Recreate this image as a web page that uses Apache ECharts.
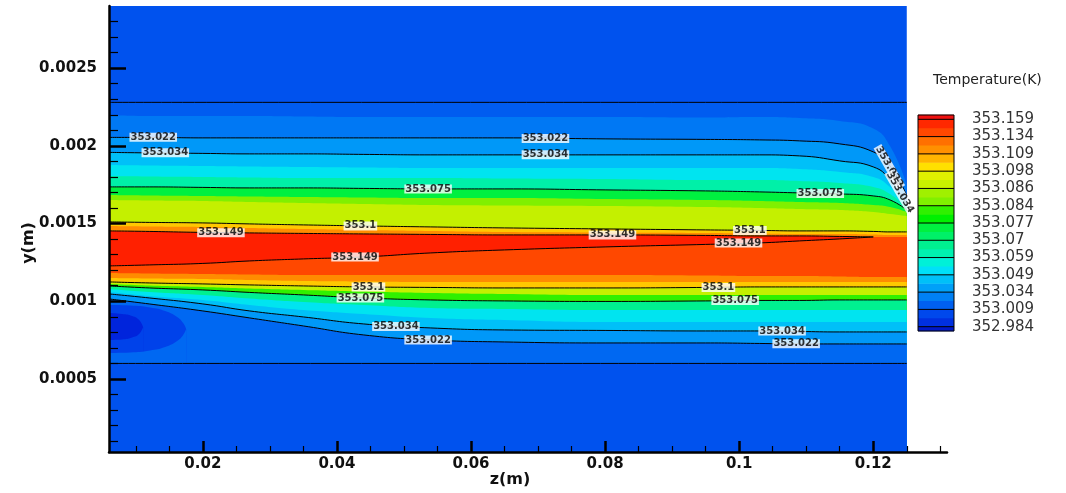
<!DOCTYPE html>
<html><head><meta charset="utf-8">
<script src="https://cdn.jsdelivr.net/npm/echarts@6/dist/echarts.min.js"></script>
<style>html,body{margin:0;padding:0;background:#fff}#c{width:1066px;height:493px}</style>
</head><body><div id="c"></div>
<script>
// ---- axis ticks ----
const xMajor = [0.02, 0.04, 0.06, 0.08, 0.1, 0.12];
const xMinor = [0.01, 0.015, 0.025, 0.03, 0.035, 0.045, 0.05, 0.055, 0.065, 0.07, 0.075, 0.085, 0.09, 0.095, 0.105, 0.11, 0.115, 0.125, 0.13];
const yMajor = [0.0005, 0.001, 0.0015, 0.002, 0.0025];
const yMinor = [0.0001, 0.0002, 0.0003, 0.0004, 0.0006, 0.0007, 0.0008, 0.0009, 0.0011, 0.0012, 0.0013, 0.0014, 0.0016, 0.0017, 0.0018, 0.0019, 0.0021, 0.0022, 0.0023, 0.0024, 0.0026, 0.0027, 0.0028];

// ---- colour legend ----
const legendLevels = ['352.984', '353.009', '353.034', '353.049', '353.059', '353.07', '353.077', '353.084', '353.086', '353.098', '353.109', '353.134', '353.159'];
const legendColors = ['#0018c8',
  '#0030e0', '#0048ec', '#0060f0', '#0080f4', '#00a0f8', '#00c0f8', '#00e0f8', '#00f0d8',
  '#00f0b0', '#00f090', '#00f068', '#00f040', '#00f000', '#30f000', '#80f000', '#a0f000',
  '#c8f000', '#e0f000', '#ffe000', '#ffb400', '#ff9000', '#ff7000', '#ff4800', '#ff2800',
  '#f01010'];

// ---- z sample positions (m) shared by the band boundaries ----
const zS = [0.006, 0.012, 0.02, 0.027, 0.035, 0.044, 0.054, 0.065, 0.08, 0.095, 0.103, 0.109, 0.115, 0.12, 0.1225, 0.125];
const zStart = 0.006, zEnd = 0.125;

// ---- band boundaries, y in mm, top to bottom ----
const plotTopMm = 2.9;
const wallTopMm = 2.28;
const wallBottomMm = 0.60;
const b02 = [2.1993, 2.1929, 2.1929, 2.1929, 2.1897, 2.1865, 2.1865, 2.1865, 2.1865, 2.1833, 2.1865, 2.1800, 2.1607, 2.1125, 1.9998, 1.7488];
const b03 = [2.0545, 2.0545, 2.0513, 2.0513, 2.0513, 2.0513, 2.0513, 2.0513, 2.0449, 2.0416, 2.0384, 2.0320, 2.0127, 1.9612, 1.8711, 1.6779]; // 353.022
const b04 = [1.9580, 1.9547, 1.9515, 1.9483, 1.9483, 1.9451, 1.9419, 1.9419, 1.9419, 1.9419, 1.9419, 1.9354, 1.9032, 1.8646, 1.7809, 1.6200]; // 353.034
const b05 = [1.8775, 1.8743, 1.8711, 1.8678, 1.8646, 1.8614, 1.8582, 1.8582, 1.8582, 1.8582, 1.8582, 1.8517, 1.8324, 1.8003, 1.7359, 1.6136];
const b06 = [1.8067, 1.8035, 1.8003, 1.7970, 1.7938, 1.7938, 1.7938, 1.7906, 1.7874, 1.7809, 1.7809, 1.7745, 1.7616, 1.7359, 1.6908, 1.6007];
const b07 = [1.7359, 1.7359, 1.7327, 1.7294, 1.7294, 1.7262, 1.7230, 1.7230, 1.7166, 1.7101, 1.7037, 1.6973, 1.6908, 1.6779, 1.6522, 1.5878]; // 353.075
const b08 = [1.6844, 1.6812, 1.6779, 1.6747, 1.6715, 1.6683, 1.6651, 1.6651, 1.6586, 1.6522, 1.6458, 1.6393, 1.6329, 1.6200, 1.6071, 1.5750];
const b09 = [1.6522, 1.6490, 1.6458, 1.6393, 1.6329, 1.6265, 1.6200, 1.6168, 1.6136, 1.6071, 1.6007, 1.5943, 1.5878, 1.5750, 1.5621, 1.5492];
const b10 = [1.5106, 1.5074, 1.5041, 1.4977, 1.4913, 1.4848, 1.4784, 1.4720, 1.4655, 1.4591, 1.4559, 1.4527, 1.4527, 1.4494, 1.4462, 1.4462]; // 353.1
const b11 = [1.4848, 1.4816, 1.4784, 1.4720, 1.4655, 1.4591, 1.4527, 1.4462, 1.4430, 1.4398, 1.4366, 1.4333, 1.4333, 1.4301, 1.4269, 1.4269];
const b12 = [1.4527, 1.4494, 1.4430, 1.4398, 1.4366, 1.4333, 1.4301, 1.4269, 1.4269, 1.4237, 1.4205, 1.4205, 1.4172, 1.4140, 1.4140, 1.4140]; // 353.149 upper
const b13 = [1.2274, 1.2338, 1.2435, 1.2595, 1.2724, 1.2853, 1.3110, 1.3303, 1.3497, 1.3658, 1.3754, 1.3883, 1.4012, 1.4140, 1.4140, 1.4140]; // 353.149 lower
const b14 = [1.1823, 1.1791, 1.1759, 1.1726, 1.1694, 1.1694, 1.1694, 1.1694, 1.1694, 1.1662, 1.1630, 1.1630, 1.1598, 1.1566, 1.1566, 1.1566];
const b15 = [1.1501, 1.1469, 1.1437, 1.1372, 1.1308, 1.1276, 1.1244, 1.1244, 1.1244, 1.1244, 1.1244, 1.1244, 1.1244, 1.1244, 1.1244, 1.1244];
const b16 = [1.1244, 1.1179, 1.1115, 1.1051, 1.0986, 1.0922, 1.0890, 1.0857, 1.0857, 1.0890, 1.0922, 1.0922, 1.0922, 1.0922, 1.0922, 1.0922]; // 353.1
const b17 = [1.1115, 1.1018, 1.0922, 1.0825, 1.0729, 1.0632, 1.0536, 1.0471, 1.0407, 1.0407, 1.0407, 1.0407, 1.0407, 1.0407, 1.0407, 1.0407];
const b18 = [1.0986, 1.0857, 1.0729, 1.0568, 1.0407, 1.0214, 1.0085, 1.0021, 0.9988, 1.0021, 1.0053, 1.0053, 1.0085, 1.0085, 1.0085, 1.0085]; // 353.075
const b19 = [1.0793, 1.0600, 1.0407, 1.0182, 0.9956, 0.9763, 0.9570, 0.9506, 0.9441, 0.9441, 0.9441, 0.9441, 0.9441, 0.9441, 0.9441, 0.9441];
const b20 = [1.0600, 1.0342, 1.0085, 0.9763, 0.9441, 0.9184, 0.8926, 0.8798, 0.8669, 0.8669, 0.8669, 0.8669, 0.8669, 0.8669, 0.8669, 0.8669];
const b21 = [1.0471, 1.0214, 0.9828, 0.9377, 0.8991, 0.8540, 0.8283, 0.8154, 0.8122, 0.8089, 0.8089, 0.8057, 0.8025, 0.8025, 0.8025, 0.8025]; // 353.034
const b22 = [1.0149, 0.9828, 0.9377, 0.8926, 0.8411, 0.7832, 0.7510, 0.7381, 0.7317, 0.7317, 0.7285, 0.7253, 0.7253, 0.7253, 0.7253, 0.7253]; // 353.022

// cold blob at the lower left (z in m, y in mm)
const ringZ = [0.006, 0.00915, 0.01213, 0.01437, 0.01616, 0.01706, 0.01751];
const ringTopMm = [0.9763, 0.9731, 0.9602, 0.9377, 0.8991, 0.8604, 0.8218];
const ringBotMm = [0.6673, 0.6705, 0.6834, 0.7059, 0.7446, 0.7832, 0.8218];
const coreZ = [0.006, 0.00795, 0.00945, 0.01049, 0.01109];
const coreTopMm = [0.9248, 0.9184, 0.9055, 0.8798, 0.8347];
const coreBotMm = [0.7510, 0.7542, 0.7671, 0.7896, 0.8347];

// contour labels
const labelText = ['353.022', '353.022', '353.034', '353.034', '353.075', '353.075', '353.1', '353.1', '353.149', '353.149', '353.149', '353.149',
  '353.1', '353.1', '353.075', '353.075', '353.034', '353.034', '353.022', '353.022', '353.022', '353.034'];
const labelZ = [0.0126, 0.0711, 0.0144, 0.0711, 0.0536, 0.1121, 0.0435, 0.1016, 0.0227, 0.0811, 0.0427, 0.0999,
  0.0447, 0.0969, 0.0435, 0.0994, 0.0488, 0.1064, 0.0536, 0.1085, 0.1224, 0.1240];
const labelYMm = [2.055, 2.048, 1.955, 1.942, 1.723, 1.694, 1.485, 1.455, 1.441, 1.427, 1.285, 1.375,
  1.092, 1.089, 1.021, 1.005, 0.838, 0.809, 0.751, 0.727, 1.865, 1.700];
const labelRot = [0, 0, 0, 0, 0, 0, 0, 0, 0, 0, 0, 0, 0, 0, 0, 0, 0, 0, 0, 0, -60, -60];

// band colours (painted below each boundary, in order)
const outerBlue = '#0052ee';
const bandColors = {
  u1: '#005cf0', u2: '#0078f4', u3: '#0098f8', u4: '#00c0f8', u5: '#00e4f0', u6: '#00f0a8',
  u7: '#00f040', u8: '#80f000', u9: '#c4f000', u10: '#ffc800', u11: '#ff8c00', red: '#ff2000',
  l1: '#ff4800', l2: '#ff8c00', l3: '#ffc800', l4: '#c4f000', l5: '#30f000', l6: '#00f090',
  l7: '#00e4f0', l8: '#00c0f8', l9: '#0098f8', l10: '#0068f2', ring: '#0042ea', core: '#0024dc'
};

// ---- build ----
const mm = v => v / 1000;
const curve = arr => zS.map((z, i) => [z, mm(arr[i])]);
const flat = v => [[zStart, mm(v)], [zEnd, mm(v)]];
const pairs = (zs, ys) => zs.map((z, i) => [z, mm(ys[i])]);

const fills = [
  [flat(plotTopMm), outerBlue],
  [flat(wallTopMm), bandColors.u1],
  [curve(b02), bandColors.u2],
  [curve(b03), bandColors.u3],
  [curve(b04), bandColors.u4],
  [curve(b05), bandColors.u5],
  [curve(b06), bandColors.u6],
  [curve(b07), bandColors.u7],
  [curve(b08), bandColors.u8],
  [curve(b09), bandColors.u9],
  [curve(b10), bandColors.u10],
  [curve(b11), bandColors.u11],
  [curve(b12), bandColors.red],
  [curve(b13), bandColors.l1],
  [curve(b14), bandColors.l2],
  [curve(b15), bandColors.l3],
  [curve(b16), bandColors.l4],
  [curve(b17), bandColors.l5],
  [curve(b18), bandColors.l6],
  [curve(b19), bandColors.l7],
  [curve(b20), bandColors.l8],
  [curve(b21), bandColors.l9],
  [curve(b22), bandColors.l10],
  [pairs(ringZ, ringTopMm), bandColors.ring],
  [pairs(coreZ, coreTopMm), bandColors.core],
  [pairs(coreZ, coreBotMm), bandColors.ring],
  [pairs(ringZ, ringBotMm), bandColors.l10],
  [flat(wallBottomMm), outerBlue]
];

const contourLines = [
  flat(wallTopMm), curve(b03), curve(b04), curve(b07), curve(b10),
  curve(b12).slice(0, 14), curve(b13).slice(0, 14),
  curve(b16), curve(b18), curve(b21), curve(b22), flat(wallBottomMm)
];

const SMOOTH = 0.5;
const series = [];
fills.forEach(([data, color], k) => {
  series.push({
    type: 'line', xAxisIndex: 0, yAxisIndex: 0, data, smooth: SMOOTH,
    symbol: 'none', showSymbol: false, silent: true, animation: false,
    lineStyle: { width: 0, opacity: 0 }, areaStyle: { color, opacity: 1, origin: 'start' },
    z: 1 + k * 0.001
  });
});
contourLines.forEach(data => {
  series.push({
    type: 'line', xAxisIndex: 0, yAxisIndex: 0, data, smooth: SMOOTH,
    symbol: 'none', showSymbol: false, silent: true, animation: false,
    lineStyle: { width: 1, color: '#000' }, z: 2
  });
});
series.push({
  type: 'scatter', xAxisIndex: 0, yAxisIndex: 0, symbolSize: 0, silent: true, animation: false, z: 3,
  data: labelText.map((t, i) => ({
    value: [labelZ[i], mm(labelYMm[i]), t],
    label: { rotate: labelRot[i] }
  })),
  label: {
    show: true, position: 'inside', formatter: p => p.data.value[2],
    fontSize: 10, fontWeight: 'bold', fontFamily: 'DejaVu Sans', color: '#000', backgroundColor: '#fff',
    padding: [0, 1, 0, 1], lineHeight: 9
  }
});

// legend bar
const legendBands = [[0, 0.25, 0]];
for (let k = 0; k < 12; k++) {
  legendBands.push([0.25 + k, 0.75 + k, 1 + 2 * k]);
  legendBands.push([0.75 + k, 1.25 + k, 2 + 2 * k]);
}
legendBands.push([12.25, 12.5, 25]);
const legendPos = legendLevels.map((t, i) => 0.25 + i);

series.push({
  type: 'custom', xAxisIndex: 2, yAxisIndex: 2, silent: true, animation: false, z: 2,
  data: legendBands,
  renderItem: (params, api) => {
    const a = api.coord([0, api.value(1)]);
    const b = api.coord([1, api.value(0)]);
    return { type: 'rect', shape: { x: a[0], y: a[1] - 0.3, width: b[0] - a[0], height: b[1] - a[1] + 0.6 },
      style: { fill: legendColors[api.value(2)] } };
  }
});
series.push({
  type: 'custom', xAxisIndex: 2, yAxisIndex: 2, silent: true, animation: false, z: 3,
  data: legendPos.map(p => [0, p]),
  renderItem: (params, api) => {
    const a = api.coord([0, api.value(1)]);
    const b = api.coord([1, api.value(1)]);
    return { type: 'line', shape: { x1: a[0], y1: a[1], x2: b[0], y2: b[1] }, style: { stroke: '#000', lineWidth: 1 } };
  }
});
series.push({
  type: 'custom', xAxisIndex: 2, yAxisIndex: 2, silent: true, animation: false, z: 4,
  data: [[0, 12.5]],
  renderItem: (params, api) => {
    const a = api.coord([0, 12.5]);
    const b = api.coord([1, 0]);
    return { type: 'rect', shape: { x: a[0], y: a[1], width: b[0] - a[0], height: b[1] - a[1] },
      style: { fill: 'none', stroke: '#000', lineWidth: 1 } };
  }
});

const fmt = v => String(parseFloat(Number(v).toPrecision(6)));
const axisFont = { fontFamily: 'DejaVu Sans', fontWeight: 'bold', fontSize: 15, color: '#111' };

const option = {
  animation: false,
  backgroundColor: '#fff',
  title: { text: 'Temperature(K)', left: 928, top: 68,
    textStyle: { fontFamily: 'DejaVu Sans', fontWeight: 'normal', fontSize: 14, color: '#222' } },
  grid: [
    { left: 109, top: 6, width: 838, height: 446, outerBoundsMode: 'none', containLabel: false },
    { left: 918, top: 115, width: 36, height: 216, outerBoundsMode: 'none', containLabel: false }
  ],
  xAxis: [
    { type: 'value', gridIndex: 0, min: 0.006, max: 0.131, position: 'bottom', z: 10,
      name: 'z(m)', nameLocation: 'middle', nameGap: 20, nameMoveOverlap: false,
      nameTextStyle: { fontFamily: 'DejaVu Sans', fontWeight: 'bold', fontSize: 16, color: '#111', padding: [0, 36, 0, 0] },
      axisLine: { show: true, onZero: false, lineStyle: { color: '#000', width: 2.5 } },
      axisTick: { show: true, inside: true, length: 11, customValues: xMajor, lineStyle: { color: '#000', width: 2.5 } },
      axisLabel: { customValues: xMajor, formatter: fmt, margin: 5, ...axisFont },
      splitLine: { show: false } },
    { type: 'value', gridIndex: 0, min: 0.006, max: 0.131, position: 'bottom', z: 10,
      axisLine: { show: false, onZero: false },
      axisTick: { show: true, inside: true, length: 6, customValues: xMinor, lineStyle: { color: '#000', width: 1.2 } },
      axisLabel: { show: false }, splitLine: { show: false } },
    { type: 'value', gridIndex: 1, min: 0, max: 1, show: false }
  ],
  yAxis: [
    { type: 'value', gridIndex: 0, min: 0.00003, max: 0.0029, position: 'left', z: 10,
      name: 'y(m)', nameLocation: 'middle', nameGap: 72, nameMoveOverlap: false,
      nameTextStyle: { fontFamily: 'DejaVu Sans', fontWeight: 'bold', fontSize: 16, color: '#111', padding: [0, 28, 0, 0] },
      axisLine: { show: true, onZero: false, lineStyle: { color: '#000', width: 2.5 } },
      axisTick: { show: true, inside: true, length: 17, customValues: yMajor, lineStyle: { color: '#000', width: 2.5 } },
      axisLabel: { customValues: yMajor, formatter: fmt, margin: 12, ...axisFont },
      splitLine: { show: false } },
    { type: 'value', gridIndex: 0, min: 0.00003, max: 0.0029, position: 'left', z: 10,
      axisLine: { show: false, onZero: false },
      axisTick: { show: true, inside: true, length: 9, customValues: yMinor, lineStyle: { color: '#000', width: 1.2 } },
      axisLabel: { show: false }, splitLine: { show: false } },
    { type: 'value', gridIndex: 1, min: 0, max: 12.5, position: 'right',
      axisLine: { show: false }, axisTick: { show: false }, splitLine: { show: false },
      axisLabel: { customValues: legendPos, margin: 18,
        formatter: v => legendLevels[Math.round(v - 0.25)],
        fontFamily: 'DejaVu Sans', fontSize: 15, color: '#333' } }
  ],
  series
};

const chart = echarts.init(document.getElementById('c'), null, { renderer: 'canvas' });
chart.setOption(option);
</script>
</body></html>
